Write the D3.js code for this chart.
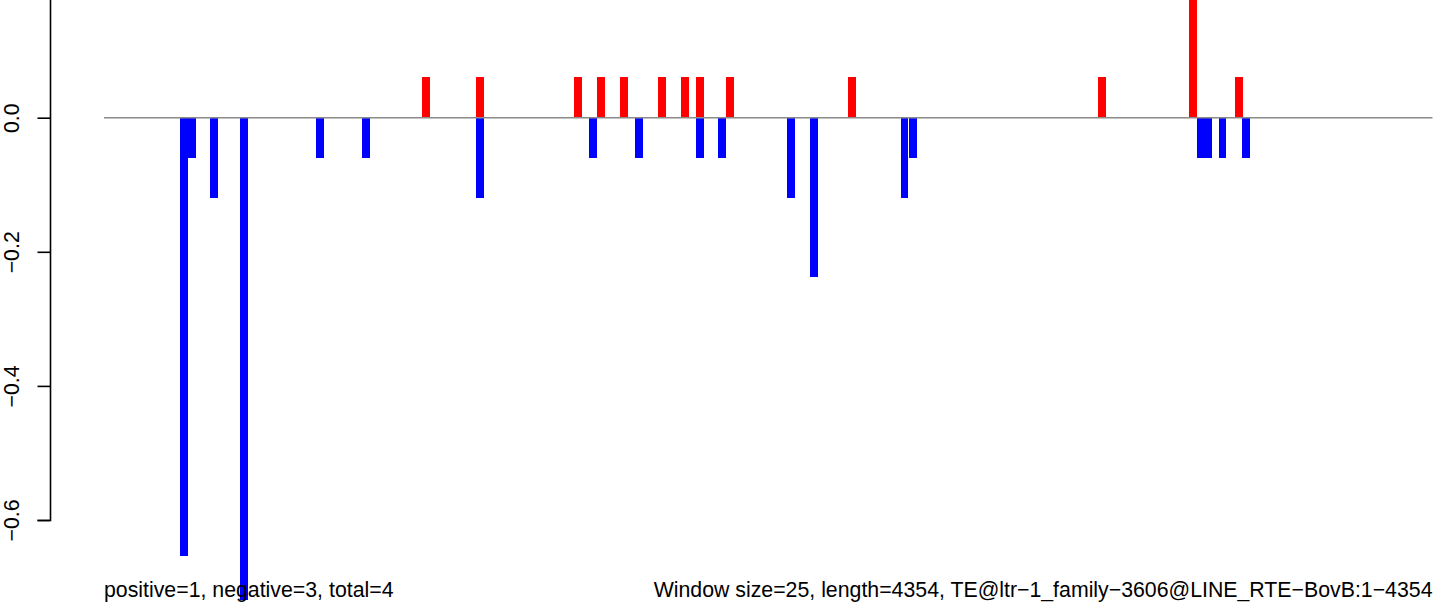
<!DOCTYPE html>
<html>
<head>
<meta charset="utf-8">
<script src="https://cdn.jsdelivr.net/npm/d3@7"></script>
<style>
  html, body { margin: 0; padding: 0; background: #fff; }
  svg { display: block; }
  text { font-family: "Liberation Sans", Arial, Helvetica, sans-serif; }
</style>
</head>
<body>
<svg id="chart" width="1444" height="607"></svg>
<script>
// ---- data (window start positions along the sequence, and scores) ----
const seqLength = 4354;
const windowSize = 25;

const positiveStarts = [1043, 1220, 1541, 1616, 1692, 1816, 1892, 1941, 2039, 2439, 3258, 3556, 3707];
const positiveValues = [0.06, 0.06, 0.06, 0.06, 0.06, 0.06, 0.06, 0.06, 0.06, 0.06, 0.06, 0.30, 0.06];

const negativeStarts = [250, 276, 348, 447, 696, 846, 1220, 1590, 1741, 1941, 2013, 2239, 2314, 2612, 2639, 3582, 3608, 3654, 3730];
const negativeValues = [-0.653, -0.06, -0.12, -0.72, -0.06, -0.06, -0.12, -0.06, -0.06, -0.06, -0.06, -0.12, -0.238, -0.12, -0.06, -0.06, -0.06, -0.06, -0.06];

const yTickValues = [0, -0.2, -0.4, -0.6];
const yTickLabels = ["0.0", "\u22120.2", "\u22120.4", "\u22120.6"];

const leftNote = "positive=1, negative=3, total=4";
const rightNote = "Window size=25, length=4354, TE@ltr\u22121_family\u22123606@LINE_RTE\u2212BovB:1\u22124354";

// ---- layout ----
const svg = d3.select("#chart");
const x = d3.scaleLinear().domain([1, seqLength]).range([104, 1432.5]);
const y = d3.scaleLinear().domain([-0.6, 0.2]).range([520, 520 - 0.8 * 670.5]);

// bars
const bars = svg.append("g").attr("shape-rendering", "crispEdges");
const pos = positiveStarts.map((s, i) => ({ s, v: positiveValues[i] }));
const neg = negativeStarts.map((s, i) => ({ s, v: negativeValues[i] }));

bars.selectAll("rect.pos").data(pos).join("rect")
  .attr("class", "pos")
  .attr("x", d => x(d.s))
  .attr("width", d => x(d.s + windowSize) - x(d.s))
  .attr("y", d => y(d.v))
  .attr("height", d => y(0) - y(d.v))
  .attr("fill", "#ff0000");

bars.selectAll("rect.neg").data(neg).join("rect")
  .attr("class", "neg")
  .attr("x", d => x(d.s))
  .attr("width", d => x(d.s + windowSize) - x(d.s))
  .attr("y", y(0))
  .attr("height", d => y(d.v) - y(0))
  .attr("fill", "#0000ff");

// zero line
svg.append("line")
  .attr("x1", x(1)).attr("x2", x(seqLength))
  .attr("y1", y(0)).attr("y2", y(0))
  .attr("stroke", "#8a8a8a").attr("stroke-width", 1.5);

// y axis
const axis = d3.axisLeft(y)
  .tickValues(yTickValues)
  .tickFormat((d, i) => yTickLabels[i])
  .tickSizeOuter(0)
  .tickSize(12.5);

const gy = svg.append("g").attr("transform", "translate(50,0)").call(axis);
gy.select(".domain").attr("stroke", "#000").attr("stroke-width", 1.6);
gy.selectAll(".tick line").attr("stroke", "#000").attr("stroke-width", 1.6);
gy.selectAll(".tick text")
  .attr("x", 0).attr("dy", 0)
  .attr("text-anchor", "middle")
  .attr("fill", "#000")
  .style("font-size", "21.3px")
  .attr("transform", "translate(-31,0) rotate(-90)");

// bottom notes
svg.append("text")
  .attr("x", x(1)).attr("y", 597)
  .attr("text-anchor", "start")
  .style("font-size", "21.3px")
  .attr("fill", "#000")
  .text(leftNote);

svg.append("text")
  .attr("x", x(seqLength)).attr("y", 597)
  .attr("text-anchor", "end")
  .style("font-size", "21.3px")
  .attr("fill", "#000")
  .text(rightNote);
</script>
</body>
</html>
